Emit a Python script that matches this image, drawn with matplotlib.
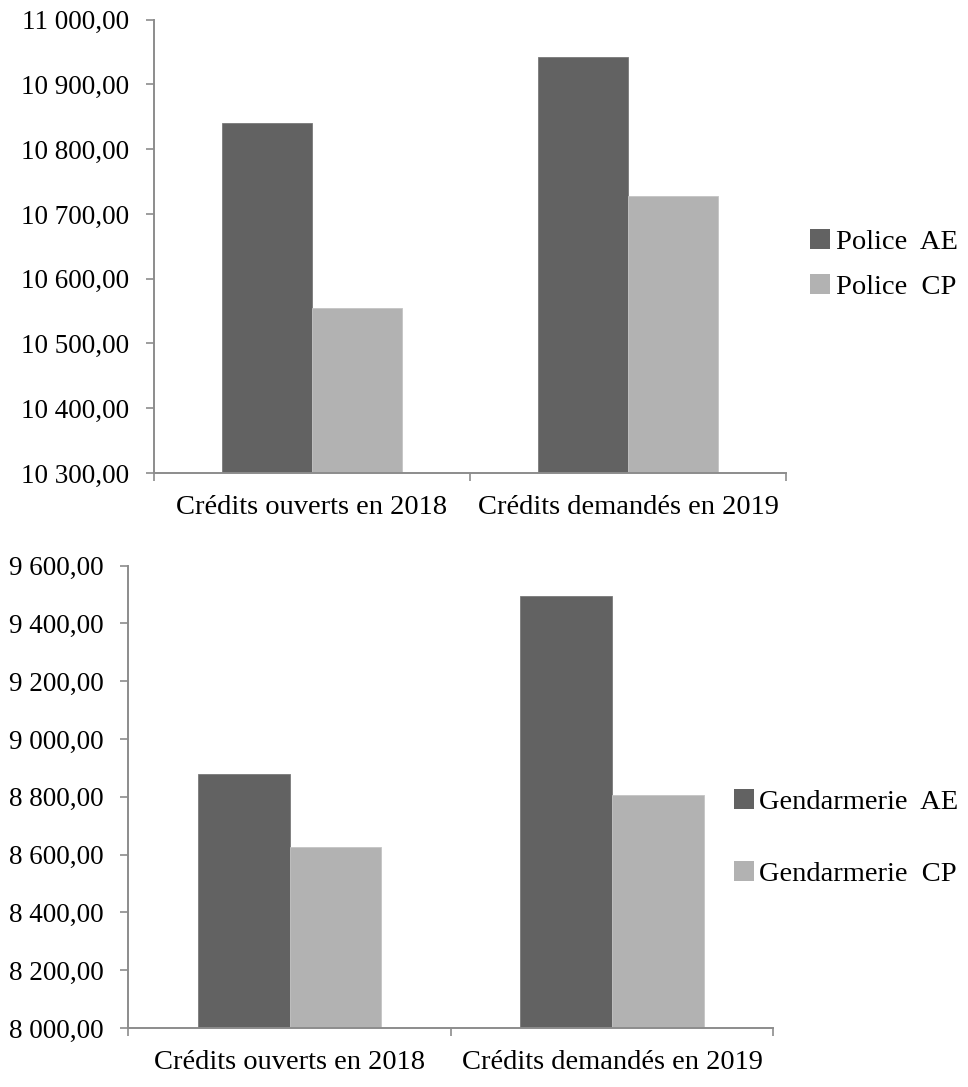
import matplotlib
matplotlib.use("Agg")
import matplotlib.pyplot as plt
from matplotlib.ticker import FuncFormatter, FixedLocator
from matplotlib.patches import Patch

categories = ["Crédits ouverts en 2018", "Crédits demandés en 2019"]

police_ae = [10841, 10942]
police_cp = [10555, 10727]
police_labels = ["Police  AE", "Police  CP"]
police_ticks = [10300, 10400, 10500, 10600, 10700, 10800, 10900, 11000]

gend_ae = [8880, 9494]
gend_cp = [8625, 8805]
gend_labels = ["Gendarmerie  AE", "Gendarmerie  CP"]
gend_ticks = [8000, 8200, 8400, 8600, 8800, 9000, 9200, 9400, 9600]

DARK = "#626262"
LIGHT = "#b2b2b2"
AXIS = "#8c8c8c"
FONT = "Liberation Serif"
FS_TICK = 19.5
FS_CAT = 20.5
FS_LEG = 20.5

plt.rcParams["font.family"] = FONT


def fr_number(v, _pos=None):
    s = f"{v:,.2f}"
    return s.replace(",", " ").replace(".", ",")


def draw_panel(fig, rect, ae, cp, labels, ticks, legend_anchor, spacing):
    ax = fig.add_axes(rect)
    n = len(categories)
    centers = [i + 0.5 for i in range(n)]
    w = 0.285
    ax.bar([c - w / 2 for c in centers], ae, width=w, color=DARK,
           edgecolor="#7a7a7a", linewidth=0.6, label=labels[0], zorder=2)
    ax.bar([c + w / 2 for c in centers], cp, width=w, color=LIGHT,
           edgecolor="#c4c4c4", linewidth=0.6, label=labels[1], zorder=2)
    ax.set_xlim(0, n)
    ax.set_ylim(ticks[0], ticks[-1])
    ax.yaxis.set_major_locator(FixedLocator(ticks))
    ax.yaxis.set_major_formatter(FuncFormatter(fr_number))

    # category boundaries carry the tick marks; names sit at the centres
    ax.set_xticks(list(range(n + 1)))
    ax.set_xticklabels([""] * (n + 1))
    ax.set_xticks(centers, minor=True)
    ax.set_xticklabels(categories, minor=True)
    ax.tick_params(axis="x", which="minor", length=0, pad=16, labelsize=FS_CAT)
    ax.tick_params(axis="x", which="major", length=6, width=1.2, color=AXIS,
                   direction="out")
    ax.tick_params(axis="y", length=6, width=1.2, color=AXIS, direction="out",
                   pad=12, labelsize=FS_TICK)

    for side in ("top", "right"):
        ax.spines[side].set_visible(False)
    for side in ("left", "bottom"):
        ax.spines[side].set_color(AXIS)
        ax.spines[side].set_linewidth(1.4)

    handles = [Patch(facecolor=DARK, edgecolor="none"),
               Patch(facecolor=LIGHT, edgecolor="none")]
    fig.legend(handles, labels, loc="center left", bbox_to_anchor=legend_anchor,
               bbox_transform=fig.transFigure, frameon=False, fontsize=FS_LEG,
               handlelength=0.7, handleheight=0.7, handletextpad=0.2,
               labelspacing=spacing, borderpad=0, borderaxespad=0)
    return ax


fig = plt.figure(figsize=(9.68, 10.87), dpi=100)
fig.patch.set_facecolor("white")

draw_panel(fig, [0.1591, 0.5649, 0.6529, 0.4170], police_ae, police_cp,
           police_labels, police_ticks, (0.837, 1 - 264.5 / 1087), 0.68)
draw_panel(fig, [0.1325, 0.0543, 0.6663, 0.4253], gend_ae, gend_cp,
           gend_labels, gend_ticks, (0.758, 1 - 838 / 1087), 1.62)

fig.savefig("out.png", dpi=100, facecolor="white")
